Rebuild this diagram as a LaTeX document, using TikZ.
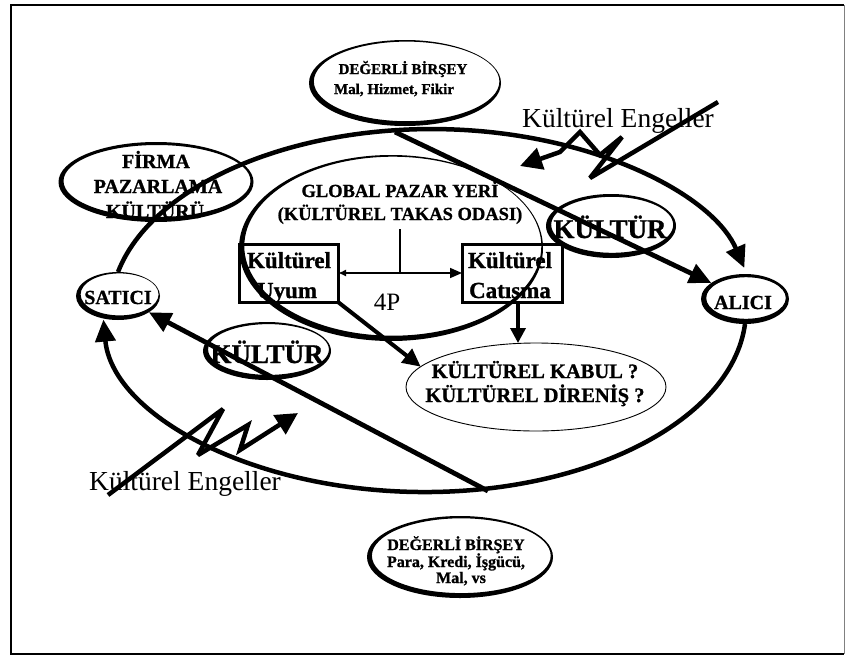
\documentclass[tikz,border=0pt]{standalone}
\usepackage{fontspec}
\setmainfont{Liberation Serif}[BoldFeatures={FakeBold=1}]
\usetikzlibrary{arrows.meta,shapes.geometric,calc}

% bold and regular sizes
\newcommand\bft[1]{\fontsize{#1}{#1}\selectfont\bfseries}
\newcommand\rgt[1]{\fontsize{#1}{#1}\selectfont}

% heavy outline of an oval node: thick on the lower left, thin on the upper right
\newcommand\ovalrim[5]{% node, x radius, y radius, width, offset
  \fill[even odd rule] (#1.center) ellipse[x radius=#2, y radius=#3]
    ([xshift=#5pt,yshift=#5pt]#1.center) ellipse[x radius=#2-#4, y radius=#3-#4];}

\tikzset{
  every node/.style={inner sep=0pt, outer sep=0pt},
  oval/.style 2 args={ellipse, minimum width=#1pt, minimum height=#2pt},
  lbl/.style={anchor=base, font=\bft{#1}},
  kbox/.style={rectangle, draw, line width=3pt},
  ring/.style={line width=4.5pt, -{Triangle[length=22pt,width=20pt]}},
  flow/.style={line width=4.8pt, -{Triangle[length=22pt,width=20pt]}},
  bolt/.style={line width=4.5pt, line join=miter, miter limit=3,
    -{Triangle[length=22pt,width=22pt]}},
}

\begin{document}
\begin{tikzpicture}[x=1pt, y=-1pt]
\useasboundingbox (0,0) rectangle (851,659);

% frame
\draw[line width=2pt] (844,5) -- (11,5) -- (11,654) -- (844,654);
\draw[gray, line width=0.6pt] (844,5) -- (844,654);

% ovals
\node[oval={192}{86}] (valtop) at (405,83) {};
\node[oval={195}{80}] (firma) at (156,182) {};
\node[oval={84}{48}] (satici) at (118,296) {};
\node[oval={88}{50}] (alici) at (745,299) {};
\node[oval={304}{186}] (pazar) at (391,248) {};
\node[oval={130}{64}] (kulturR) at (611,226) {};
\node[oval={128}{58}] (kulturL) at (267,351) {};
\node[oval={260}{88}, draw, line width=0.9pt] (kabul) at (536,387) {};
\node[oval={186}{82}] (valbot) at (460,557) {};

\ovalrim{valtop}{96}{43}{3.2}{1.6}
\ovalrim{firma}{97.5}{40}{4}{1}
\ovalrim{satici}{42}{24}{3}{1.6}
\ovalrim{alici}{44}{25}{4.2}{1}
\ovalrim{pazar}{152}{93}{3.5}{1.8}
\ovalrim{kulturR}{65}{32}{4}{1.2}
\ovalrim{kulturL}{64}{29}{3.6}{1.5}
\ovalrim{valbot}{93}{41}{3.6}{1.3}

% boxes
\node[kbox, minimum width=99pt, minimum height=58pt] (uyum) at (288.5,273) {};
\node[kbox, minimum width=100pt, minimum height=58pt] (catisma) at (512,273) {};

% labels
\node[lbl=15] (valtopA) at (403,74) {DEĞERLİ BİRŞEY};
\node[lbl=15] (valtopB) at (394,94) {Mal, Hizmet, Fikir};
\node[lbl=20] (firmaA) at (156,168) {FİRMA};
\node[lbl=20] (firmaB) at (158,193) {PAZARLAMA};
\node[lbl=20] (firmaC) at (155,218) {KÜLTÜRÜ};
\node[lbl=20] (saticiT) at (118,304) {SATICI};
\node[lbl=20] (aliciT) at (743,309) {ALICI};
\node[lbl=18.5] (pazarA) at (400,197) {GLOBAL PAZAR YERİ};
\node[lbl=18.5] (pazarB) at (400,220) {(KÜLTÜREL TAKAS ODASI)};
\node[lbl=23] (uyumA) at (289,268) {Kültürel};
\node[lbl=23] (uyumB) at (287,298) {Uyum};
\node[lbl=23] (catA) at (510,268) {Kültürel};
\node[lbl=23] (catB) at (510,298) {Catısma};
\node[anchor=base, font=\rgt{25}] (fourP) at (387,310) {4P};
\node[lbl=27] (kulturRT) at (610,238) {KÜLTÜR};
\node[lbl=27] (kulturLT) at (267,363) {KÜLTÜR};
\node[lbl=20.5] (kabulA) at (535,378) {KÜLTÜREL KABUL ?};
\node[lbl=20.5] (kabulB) at (535,402) {KÜLTÜREL DİRENİŞ ?};
\node[lbl=16] (valbotA) at (456,550) {DEĞERLİ BİRŞEY};
\node[lbl=16] (valbotB) at (456,567) {Para, Kredi, İşgücü,};
\node[lbl=16] (valbotC) at (461,583) {Mal, vs};
\node[anchor=base, font=\rgt{27.5}] (engelTop) at (618,127) {Kültürel Engeller};
\node[anchor=base, font=\rgt{27.5}] (engelBot) at (185,490) {Kültürel Engeller};

% exchange ring between seller and buyer
\draw[ring] (satici.north) arc[start angle=-167.6, end angle=-13.7, x radius=321.5, y radius=182];
\draw[ring] (alici.south) arc[start angle=4.4, end angle=177, x radius=321.5, y radius=182];

% value flows
\coordinate (vtop) at (395,132);
\coordinate (vbot) at (488,491);
\draw[flow] (vtop) -- (alici);
\draw[flow] (vbot) -- (satici);

% inside the market place
\coordinate (ptop) at (400,229);
\draw[line width=1.6pt, {Latex[length=8pt,width=7pt]}-{Triangle[length=12pt,width=10pt]}] (uyum.east) -- (catisma.west);
\draw[line width=1.6pt] (ptop) -- (ptop |- uyum.east);
\draw[line width=4pt, -{Triangle[length=18pt,width=17pt]}] (uyum.south east) -- (kabul.170);
\coordinate (catfoot) at ($(catisma.south)+(6,0)$);
\draw[line width=3.5pt, -{Triangle[length=15pt,width=15pt]}] (catfoot) -- (catfoot |- kabul.north);

% cultural barriers
\coordinate (lt1) at (718,102);
\coordinate (lh1) at (520,166);
\draw[bolt] (lt1) -- (590,178) -- (622,137) -- (600,155) -- (580,132)
  -- (560,152) -- (lh1);
\coordinate (lt2) at (108,495);
\coordinate (lh2) at (298,413);
\draw[bolt] (lt2) -- (223,409) -- (198,455) -- (248,425) -- (240,450) -- (lh2);
\end{tikzpicture}
\end{document}
